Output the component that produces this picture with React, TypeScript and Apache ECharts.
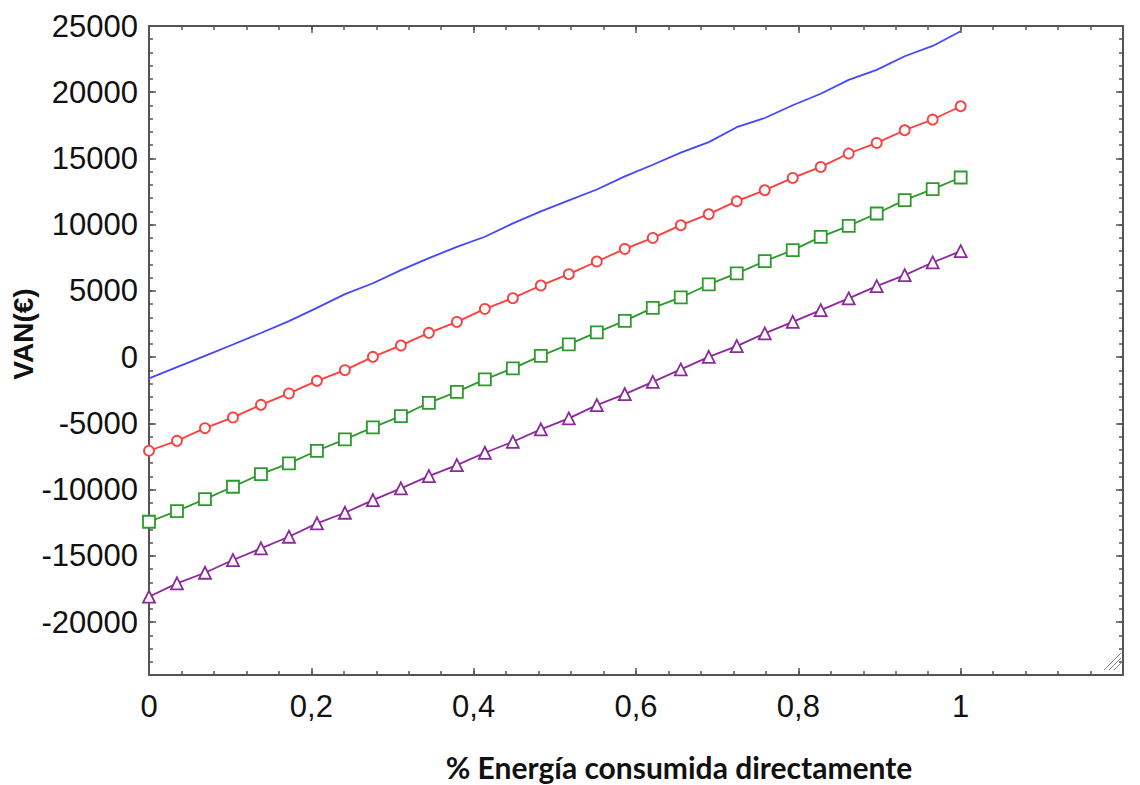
import React, { useEffect, useRef } from "react";
import * as echarts from "echarts";

const xValues: number[] = Array.from({ length: 30 }, (_, i) => i / 29);

const blueValues = [
  -1608, -755, 98, 951, 1819, 2717, 3720, 4754, 5577, 6566,
  7472, 8325, 9087, 10098, 11004, 11834, 12657, 13645, 14521, 15442,
  16234, 17358, 18053, 19019, 19887, 20936, 21690, 22717, 23494, 24600,
];
const redValues = [
  -7070, -6317, -5358, -4551, -3600, -2740, -1789, -981, 23, 883,
  1834, 2664, 3645, 4453, 5411, 6264, 7222, 8173, 9004, 9962,
  10792, 11773, 12603, 13532, 14362, 15373, 16174, 17132, 17939, 18943,
];
const greenValues = [
  -12430, -11622, -10717, -9788, -8830, -8022, -7071, -6211, -5306, -4453,
  -3449, -2619, -1683, -853, 98, 958, 1864, 2740, 3721, 4505,
  5487, 6317, 7245, 8075, 9079, 9909, 10845, 11849, 12679, 13562,
];
const purpleValues = [
  -18090, -17080, -16279, -15320, -14438, -13562, -12551, -11751, -10792, -9909,
  -8981, -8151, -7222, -6392, -5456, -4626, -3623, -2792, -1864, -928,
  23, 830, 1789, 2664, 3547, 4430, 5358, 6188, 7147, 8000,
];

const yMajorTicks = [-20000, -15000, -10000, -5000, 0, 5000, 10000, 15000, 20000, 25000];
const xMajorTicks = [0, 0.2, 0.4, 0.6, 0.8, 1, 1.2];

const X_MIN = 0;
const X_MAX = 1.2;
const Y_MIN = -24000;
const Y_MAX = 25000;

const AXIS_COLOR = "#555";
const LABEL_FONT = "'Liberation Sans', Arial, Helvetica, sans-serif";

function pairs(vals: number[]) {
  return vals.map((v, i) => [xValues[i], v]);
}

export default function App() {
  const ref = useRef<HTMLDivElement>(null);

  useEffect(() => {
    if (!ref.current) return;
    const chart = echarts.init(ref.current, undefined, { renderer: "svg" });

    const minorX = (position: "bottom" | "top", showLabel: boolean) => ({
      type: "value",
      position,
      min: X_MIN,
      max: X_MAX,
      interval: 0.04,
      axisLine: { show: true, onZero: false, lineStyle: { color: AXIS_COLOR, width: 2 } },
      axisTick: { show: true, inside: true, length: 4, lineStyle: { color: AXIS_COLOR, width: 1.5 } },
      splitLine: { show: false },
      axisLabel: showLabel
        ? {
            show: true,
            margin: 16,
            fontSize: 31,
            fontFamily: LABEL_FONT,
            color: "#111",
            formatter: (v: number) => {
              const r = Math.round(v * 100) / 100;
              if (r > 1.0001) return "";
              const k = Math.round(r * 5);
              if (Math.abs(r * 5 - k) > 1e-6) return "";
              return String(k / 5).replace(".", ",");
            },
          }
        : { show: false },
    });
    const majorX = (position: "bottom" | "top") => ({
      type: "value",
      position,
      min: X_MIN,
      max: X_MAX,
      axisLine: { show: false, onZero: false },
      axisTick: { show: true, inside: true, length: 7, customValues: xMajorTicks, lineStyle: { color: AXIS_COLOR, width: 1.5 } },
      splitLine: { show: false },
      axisLabel: { show: false },
    });
    const minorY = (position: "left" | "right", showLabel: boolean) => ({
      type: "value",
      position,
      min: Y_MIN,
      max: Y_MAX,
      interval: 1000,
      axisLine: { show: true, onZero: false, lineStyle: { color: AXIS_COLOR, width: 2 } },
      axisTick: { show: true, inside: true, length: 4, lineStyle: { color: AXIS_COLOR, width: 1.5 } },
      splitLine: { show: false },
      axisLabel: showLabel
        ? {
            show: true,
            margin: 11,
            fontSize: 31,
            fontFamily: LABEL_FONT,
            color: "#111",
            formatter: (v: number) => (Math.round(v) % 5000 === 0 ? String(Math.round(v)) : ""),
          }
        : { show: false },
    });
    const majorY = (position: "left" | "right") => ({
      type: "value",
      position,
      min: Y_MIN,
      max: Y_MAX,
      axisLine: { show: false, onZero: false },
      axisTick: { show: true, inside: true, length: 7, customValues: yMajorTicks, lineStyle: { color: AXIS_COLOR, width: 1.5 } },
      splitLine: { show: false },
      axisLabel: { show: false },
    });

    const markerSeries = (name: string, data: number[], color: string, symbol: string, size: number) => ({
      name,
      type: "line",
      xAxisIndex: 0,
      yAxisIndex: 0,
      data: pairs(data),
      symbol,
      symbolSize: size,
      showSymbol: true,
      lineStyle: { color, width: 1.8 },
      itemStyle: { color: "#fff", borderColor: color, borderWidth: 1.8 },
      z: 3,
    });

    chart.setOption({
      animation: false,
      backgroundColor: "#fff",
      grid: { left: 149, right: 17, top: 26, bottom: 110, containLabel: false },
      xAxis: [minorX("bottom", true), majorX("bottom"), minorX("top", false), majorX("top")],
      yAxis: [minorY("left", true), majorY("left"), minorY("right", false), majorY("right")],
      series: [
        {
          name: "blue",
          type: "line",
          xAxisIndex: 0,
          yAxisIndex: 0,
          data: pairs(blueValues),
          showSymbol: false,
          symbol: "none",
          lineStyle: { color: "#4646ff", width: 1.8 },
          z: 3,
        },
        markerSeries("red", redValues, "#ff3b3b", "circle", 10),
        markerSeries("green", greenValues, "#2b9a2b", "rect", 12),
        markerSeries("purple", purpleValues, "#8c2a9c", "triangle", 12),
      ],
      graphic: [
        {
          type: "text",
          x: 23,
          y: 334,
          rotation: Math.PI / 2,
          style: {
            text: "VAN(€)",
            fontSize: 28,
            fontWeight: "bold",
            fontFamily: LABEL_FONT,
            fill: "#111",
            textAlign: "center",
            textVerticalAlign: "middle",
          },
        },
        {
          type: "text",
          x: 679,
          y: 767,
          style: {
            text: "% Energía consumida directamente",
            fontSize: 30,
            fontWeight: "bold",
            fontFamily: "Lato, 'Noto Sans', sans-serif",
            fill: "#111",
            textAlign: "center",
            textVerticalAlign: "middle",
          },
        },
        {
          type: "group",
          children: [
            { type: "line", shape: { x1: 1104, y1: 670, x2: 1121, y2: 653 }, style: { stroke: "#888", lineWidth: 1 } },
            { type: "line", shape: { x1: 1109, y1: 670, x2: 1121, y2: 658 }, style: { stroke: "#888", lineWidth: 1 } },
            { type: "line", shape: { x1: 1114, y1: 670, x2: 1121, y2: 663 }, style: { stroke: "#888", lineWidth: 1 } },
          ],
        },
      ],
    });

    return () => chart.dispose();
  }, []);

  return <div ref={ref} style={{ width: 1140, height: 785, position: "absolute", left: 0, top: 0 }} />;
}
